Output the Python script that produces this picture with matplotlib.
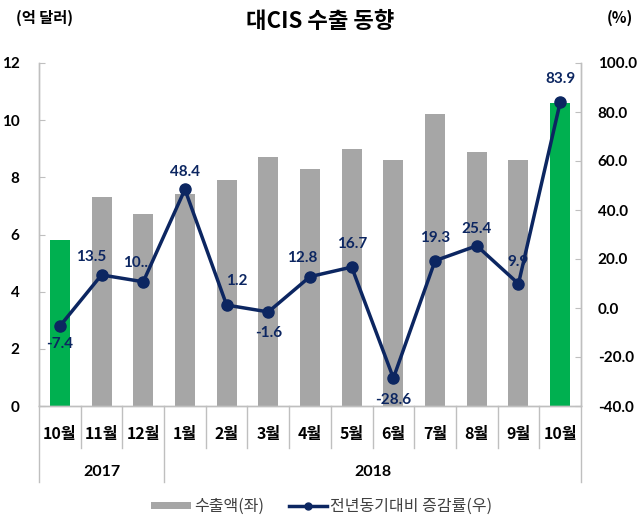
import matplotlib
matplotlib.use("Agg")
import matplotlib.pyplot as plt
from matplotlib.lines import Line2D
from matplotlib.patches import Rectangle
import matplotlib.transforms as mtransforms

plt.rcParams['font.family'] = ['Noto Sans CJK KR', 'DejaVu Sans']

months = ['10월', '11월', '12월', '1월', '2월', '3월', '4월', '5월', '6월', '7월', '8월', '9월', '10월']
years = ['2017', '2018']
year_spans = [(0, 2), (3, 12)]
exports = [5.8, 7.3, 6.7, 7.4, 7.9, 8.7, 8.3, 9.0, 8.6, 10.2, 8.9, 8.6, 10.6]
growth = [-7.4, 13.5, 10.7, 48.4, 1.2, -1.6, 12.8, 16.7, -28.6, 19.3, 25.4, 9.9, 83.9]
growth_labels = ['-7.4', '13.5', '10...', '48.4', '1.2', '-1.6', '12.8', '16.7', '-28.6', '19.3', '25.4', '9.9', '83.9']
label_offsets = [(0, -18), (-10, 18), (-6, 19), (0, 17), (10, 24), (0, -21), (-8, 19),
                 (0, 23), (0, -22), (0, 23), (0, 17), (-1, 22), (0, 23)]
highlight = [0, 12]
legend_labels = ['수출액(좌)', '전년동기대비 증감률(우)']

GRAY = '#A6A6A6'
GREEN = '#00B050'
NAVY = '#0C2661'
SPINE = '#BFBFBF'
NUMFONT = ['Lato', 'Noto Sans CJK KR']

W, H = 641, 518
fig = plt.figure(figsize=(W/100, H/100), dpi=100)
ax = fig.add_axes([39/W, 1-406/H, (581-39)/W, (406-63)/H])
ax2 = ax.twinx()

x = list(range(len(months)))
colors = [GREEN if i in highlight else GRAY for i in x]
ax.bar(x, exports, width=0.48, color=colors, zorder=2)
ax.set_xlim(-0.5, len(months) - 0.5)
ax.set_ylim(0, 12)
ax.set_yticks(range(0, 13, 2))
ax.set_yticklabels([str(v) for v in range(0, 13, 2)], fontweight='bold', fontsize=11, family=NUMFONT)

ax2.plot(x, growth, color=NAVY, lw=2.5, marker='o', ms=8, zorder=3)
ax2.set_ylim(-40, 100)
ax2.set_yticks(range(-40, 101, 20))
ax2.set_yticklabels([f'{v:.1f}' for v in range(-40, 101, 20)], fontweight='bold', fontsize=11, family=NUMFONT)

for i, (v, lab, (dx, dy)) in enumerate(zip(growth, growth_labels, label_offsets)):
    ax2.annotate(lab, (i, v), xytext=(dx, dy), textcoords='offset pixels',
                 ha='center', va='center', color=NAVY, fontweight='bold', fontsize=11,
                 family=NUMFONT, zorder=4)

for a in (ax, ax2):
    a.spines['top'].set_visible(False)
    for s in ('left', 'right', 'bottom'):
        a.spines[s].set_color(SPINE)
        a.spines[s].set_linewidth(1)
ax.tick_params(axis='y', direction='in', length=4, color=SPINE, pad=14)
ax2.tick_params(axis='y', direction='in', length=4, color=SPINE, pad=12)
ax.set_xticks([])

trans = mtransforms.blended_transform_factory(ax.transData, ax.transAxes)
h = 406 - 63
month_bot = -(448 - 406) / h
year_bot = -(482 - 406) / h
month_y = -(434 - 406) / h
year_y = -(472 - 406) / h

for i, m in enumerate(months):
    ax.text(i, month_y, m, transform=trans, ha='center', va='center', fontsize=11.5, fontweight='bold')
year_edges = set()
for (a, b), yr in zip(year_spans, years):
    ax.text((a + b) / 2, year_y, yr, transform=trans, ha='center', va='center', fontsize=11.5,
            fontweight='bold', family=NUMFONT)
    year_edges.add(a - 0.5)
    year_edges.add(b + 0.5)
for k in range(len(months) + 1):
    xe = k - 0.5
    bot = year_bot if xe in year_edges else month_bot
    ax.add_line(Line2D([xe, xe], [0, bot], transform=trans, color=SPINE, lw=1, clip_on=False))

fig.text(320/W, 1-21/H, '대CIS 수출 동향', ha='center', va='center', fontsize=16, fontweight='bold')
fig.text(45/W, 1-18/H, '(억 달러)', ha='center', va='center', fontsize=11, fontweight='bold')
fig.text(620/W, 1-18/H, '(%)', ha='center', va='center', fontsize=11, fontweight='bold')

# legend (drawn manually for exact placement)
ly = 1 - 506/H
fig.add_artist(Rectangle((151/W, 1-509/H), 40/W, 7/H, transform=fig.transFigure,
                         facecolor=GRAY, edgecolor='none'))
fig.text(194/W, ly, legend_labels[0], ha='left', va='center', fontsize=11.5, color='#404040')
fig.add_artist(Line2D([289/W, 327/W], [ly, ly], transform=fig.transFigure, color=NAVY, lw=2.5))
fig.add_artist(Line2D([308/W], [ly], transform=fig.transFigure, color=NAVY, marker='o', ms=5))
fig.text(330/W, ly, legend_labels[1], ha='left', va='center', fontsize=11.5, color='#404040')

fig.savefig('out.png', dpi=100)
